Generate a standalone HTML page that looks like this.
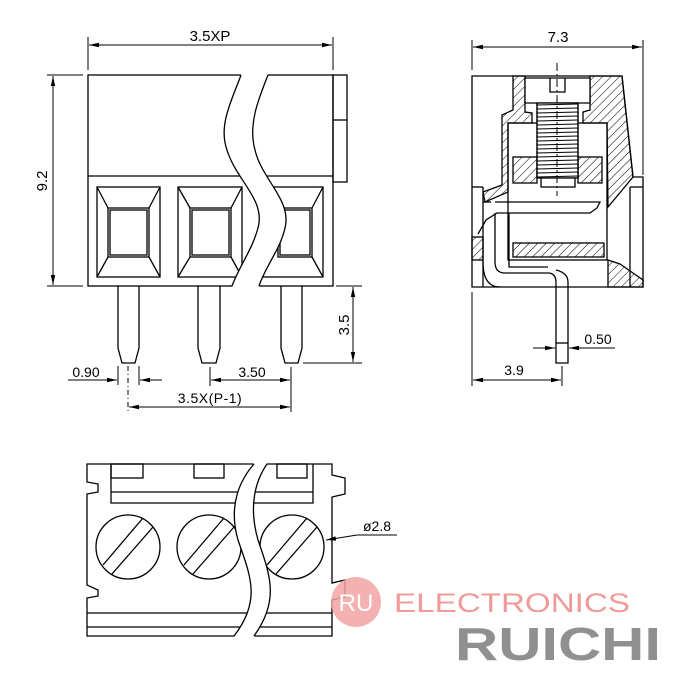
<!DOCTYPE html>
<html><head><style>
html,body{margin:0;padding:0;background:#fff}
svg{display:block}
text{font-family:"Liberation Sans",sans-serif;fill:#000}
</style></head><body>
<svg width="700" height="700" viewBox="0 0 700 700" xmlns="http://www.w3.org/2000/svg">
<defs>
<pattern id="h" patternUnits="userSpaceOnUse" width="6" height="6" patternTransform="rotate(45)">
<line x1="0" y1="0" x2="0" y2="6" stroke="#000" stroke-width="1"/>
</pattern>
<pattern id="t" patternUnits="userSpaceOnUse" width="41" height="4" x="537" y="103">
<line x1="0" y1="2" x2="41" y2="1" stroke="#000" stroke-width="1"/>
</pattern>
<marker id="a" markerWidth="10" markerHeight="6" refX="10" refY="3" orient="auto-start-reverse" markerUnits="userSpaceOnUse">
<path d="M0,0.8 L10,3 L0,5.2 z" fill="#000"/>
</marker>
</defs>
<g fill="none" stroke="#000" stroke-width="1.3">
<rect x="88" y="75" width="245" height="211" fill="#fff"/>
<line x1="88" y1="176" x2="333" y2="176"/>
<rect x="333" y="75" width="14" height="107"/>
<line x1="333" y1="120" x2="347" y2="120"/>
<g>
<rect x="97" y="187" width="63" height="90"/><rect x="108" y="208" width="41" height="49"/><rect x="110" y="210" width="37" height="45"/>
<line x1="97" y1="187" x2="108" y2="208"/><line x1="160" y1="187" x2="149" y2="208"/><line x1="97" y1="277" x2="108" y2="257"/><line x1="160" y1="277" x2="149" y2="257"/>
<rect x="178" y="187" width="64" height="90"/><rect x="190" y="208" width="41" height="49"/><rect x="192" y="210" width="37" height="45"/>
<line x1="178" y1="187" x2="190" y2="208"/><line x1="242" y1="187" x2="231" y2="208"/><line x1="178" y1="277" x2="190" y2="257"/><line x1="242" y1="277" x2="231" y2="257"/>
<rect x="262" y="187" width="61" height="90"/><rect x="278" y="208" width="34" height="49"/><rect x="280" y="210" width="30" height="45"/>
<line x1="323" y1="187" x2="312" y2="208"/><line x1="323" y1="277" x2="312" y2="257"/>
</g>
<path d="M241,74 C232,100 218,125 227,150 C236,180 266,200 258,228 C252,250 240,265 232,287 L259,287 C266,265 280,250 285,228 C292,200 262,180 255,150 C248,125 258,100 268,74 Z" fill="#fff" stroke="none"/>
<path d="M241,75 C232,100 218,125 227,150 C236,180 266,200 258,228 C252,250 240,265 232,286"/>
<path d="M268,75 C258,100 248,125 255,150 C262,180 292,200 285,228 C280,250 266,265 259,286"/>
<path d="M118,286 V348 L122,363 H135 L139,348 V286"/>
<path d="M198,286 V348 L202,363 H216 L220,348 V286"/>
<path d="M281,286 V348 L285,363 H298 L302,348 V286"/>
</g>
<g stroke="#000" stroke-width="1" fill="none">
<line x1="88" y1="37" x2="88" y2="70"/><line x1="333" y1="37" x2="333" y2="70"/>
<line x1="89" y1="45" x2="332" y2="45" marker-start="url(#a)" marker-end="url(#a)"/>
<line x1="47" y1="75" x2="83" y2="75"/><line x1="47" y1="286" x2="83" y2="286"/>
<line x1="53" y1="76" x2="53" y2="285" marker-start="url(#a)" marker-end="url(#a)"/>
<line x1="336" y1="286" x2="362" y2="286"/><line x1="303" y1="363" x2="362" y2="363"/>
<line x1="353" y1="287" x2="353" y2="362" marker-start="url(#a)" marker-end="url(#a)"/>
<line x1="118" y1="366" x2="118" y2="385"/><line x1="139" y1="366" x2="139" y2="385"/>
<line x1="68" y1="380" x2="117" y2="380" marker-end="url(#a)"/><line x1="162" y1="380" x2="140" y2="380" marker-end="url(#a)"/>
<line x1="128" y1="366" x2="128" y2="412" stroke-dasharray="5,3,1,3"/>
<line x1="210" y1="367" x2="210" y2="386"/><line x1="291" y1="367" x2="291" y2="412"/>
<line x1="211" y1="380" x2="290" y2="380" marker-start="url(#a)" marker-end="url(#a)"/>
<line x1="129" y1="407" x2="290" y2="407" marker-start="url(#a)" marker-end="url(#a)"/>
</g>
<text x="210" y="41" font-size="15" text-anchor="middle">3.5XP</text>
<text transform="translate(47,181) rotate(-90)" font-size="15" text-anchor="middle">9.2</text>
<text transform="translate(349,325) rotate(-90)" font-size="15" text-anchor="middle">3.5</text>
<text x="86" y="377" font-size="14" text-anchor="middle">0.90</text>
<text x="252" y="377" font-size="14" text-anchor="middle">3.50</text>
<text x="210" y="403" font-size="14" text-anchor="middle" letter-spacing="0.5">3.5X(P-1)</text>

<g fill="none" stroke="#000" stroke-width="1.3">
<path d="M472,187 V76 H622 L633,177 H643 V287 H472 Z" fill="#fff"/>
<line x1="472" y1="187" x2="483" y2="187"/><line x1="483" y1="187" x2="483" y2="287"/>
<line x1="630" y1="187" x2="643" y2="187"/><line x1="630" y1="187" x2="630" y2="287"/>
<path d="M513,76 H525 V112 L532,113 V123 H508 V192 L485,202 L483,192 L502,185 V115 L513,110 Z" fill="url(#h)"/>
<path d="M590,76 H622 L633,177 L608,207 L607,123 H583 V112 L590,110 Z" fill="url(#h)"/>
<rect x="508" y="123" width="99" height="137"/>
<rect x="513" y="157" width="24" height="26" fill="url(#h)"/>
<rect x="578" y="157" width="24" height="26" fill="url(#h)"/>
<rect x="513" y="243" width="91" height="14" fill="url(#h)"/>
<path d="M525,78 H590 V103 H525 Z" fill="#fff"/>
<path d="M550,78 V92 H565 V78"/>
<rect x="537" y="103" width="41" height="75" fill="#fff"/>
<rect x="537" y="103" width="41" height="75" fill="url(#t)" stroke="none"/>
<path d="M537,103 V178 M578,103 V178" stroke-dasharray="3,1"/>
<rect x="541" y="178" width="34" height="9" fill="#fff"/>
<path d="M495,202 H600 L597,208 L590,213 H497 L486,220 L478,234" />
<path d="M483,202 L491,202"/>
<path d="M495,213 V262 Q495,273 505,273 H548"/>
<path d="M509,213 V267 H548"/>
<path d="M483,262 Q483,287 500,287"/>
<path d="M548,273 Q556,273 556,283 V363 H568 V282 Q568,273 556,270"/>
<line x1="556" y1="343" x2="568" y2="343"/>
<rect x="472" y="237" width="11" height="23" fill="url(#h)"/>
<path d="M608,260 L620,264 L643,280 V287 H608 Z" fill="url(#h)"/>
</g>
<g stroke="#000" stroke-width="1" fill="none">
<line x1="557" y1="63" x2="557" y2="196" stroke-dasharray="8,3,2,3"/>
<line x1="472" y1="40" x2="472" y2="70"/><line x1="643" y1="40" x2="643" y2="175"/>
<line x1="473" y1="47" x2="642" y2="47" marker-start="url(#a)" marker-end="url(#a)"/>
<line x1="533" y1="348" x2="555" y2="348" marker-end="url(#a)"/><line x1="615" y1="348" x2="569" y2="348" marker-end="url(#a)"/>
<line x1="472" y1="292" x2="472" y2="386"/><line x1="562" y1="366" x2="562" y2="386"/>
<line x1="473" y1="380" x2="561" y2="380" marker-start="url(#a)" marker-end="url(#a)"/>
</g>
<text x="558" y="42" font-size="15" text-anchor="middle">7.3</text>
<text x="598" y="344" font-size="14" text-anchor="middle">0.50</text>
<text x="514" y="375" font-size="14" text-anchor="middle">3.9</text>

<g fill="none" stroke="#000" stroke-width="1.3">
<path d="M87,464 H332 V475 L345,478 V494 L332,497 V583 L345,580 V597 L332,600 V636 H87 V598 L98,596 V590 L87,585 V494 L98,492 V484 L87,482 Z" fill="#fff"/>
<path d="M111,464 V503 H313 V464"/>
<line x1="111" y1="492" x2="313" y2="492"/>
<rect x="111" y="464" width="32" height="14"/>
<rect x="194" y="464" width="30" height="14"/>
<rect x="277" y="464" width="30" height="14"/>
<line x1="87" y1="613" x2="332" y2="613"/><line x1="87" y1="627" x2="332" y2="627"/>
<g>
<circle cx="128" cy="547" r="32"/><line x1="103" y1="565" x2="143" y2="518"/><line x1="112" y1="574" x2="153" y2="527"/>
<circle cx="209" cy="547" r="32"/><line x1="184" y1="565" x2="224" y2="518"/><line x1="193" y1="574" x2="234" y2="527"/>
<circle cx="292" cy="547" r="32"/><line x1="267" y1="565" x2="307" y2="518"/><line x1="276" y1="574" x2="317" y2="527"/>
</g>
<path d="M254,463 C240,480 228,505 238,540 C250,575 262,600 234,637 L254,637 C280,600 270,575 258,540 C248,505 256,480 267,463 Z" fill="#fff" stroke="none"/>
<path d="M254,464 C240,480 228,505 238,540 C250,575 262,600 234,636"/>
<path d="M267,464 C256,480 248,505 258,540 C270,575 280,600 254,636"/>
</g>
<g stroke="#000" stroke-width="1" fill="none">
<line x1="357" y1="535" x2="397" y2="535"/>
<line x1="357" y1="535" x2="326" y2="540" marker-end="url(#a)"/>
</g>
<text x="377" y="531" font-size="14" text-anchor="middle">ø2.8</text>

<circle cx="356" cy="602" r="25" fill="#f2a3a3" opacity="0.85"/>
<text x="356" y="611" font-size="24" text-anchor="middle" style="fill:#fff">RU</text>
<text x="394" y="612" font-size="27" textLength="236" lengthAdjust="spacingAndGlyphs" style="fill:#f09a9a">ELECTRONICS</text>
<text x="455" y="660" font-size="46" font-weight="bold" textLength="206" lengthAdjust="spacingAndGlyphs" style="fill:#909090">RUICHI</text>
</svg>
</body></html>
